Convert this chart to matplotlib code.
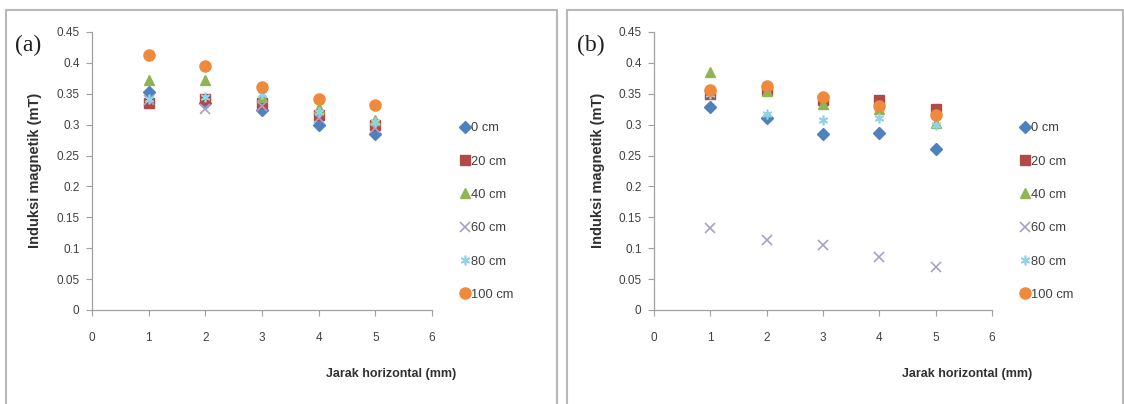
import numpy as np
import matplotlib.pyplot as plt
from matplotlib.patches import Rectangle
from matplotlib.ticker import FuncFormatter, MultipleLocator

# horizontal distance (mm)
jarak = [1, 2, 3, 4, 5]
labels = ["0 cm", "20 cm", "40 cm", "60 cm", "80 cm", "100 cm"]

# (a) magnetic induction (mT)
a_0 = [0.353, 0.335, 0.323, 0.300, 0.285]
a_20 = [0.335, 0.342, 0.335, 0.315, 0.299]
a_40 = [0.373, 0.373, 0.345, 0.327, 0.308]
a_60 = [0.340, 0.326, 0.330, 0.310, 0.295]
a_80 = [0.342, 0.345, 0.350, 0.320, 0.305]
a_100 = [0.412, 0.395, 0.361, 0.342, 0.332]

# (b) magnetic induction (mT)
b_0 = [0.328, 0.310, 0.285, 0.286, 0.260]
b_20 = [0.350, 0.356, 0.340, 0.340, 0.326]
b_40 = [0.386, 0.355, 0.334, 0.325, 0.302]
b_60 = [0.133, 0.114, 0.105, 0.085, 0.069]
b_80 = [0.350, 0.318, 0.307, 0.310, 0.300]
b_100 = [0.356, 0.362, 0.345, 0.331, 0.315]

# excel-like marker styles
styles = [
    dict(marker="D", color="#4f81bd", ms=6),
    dict(marker="s", color="#b04a47", ms=7),
    dict(marker="^", color="#8fb455", ms=7.5),
    dict(marker="x", color="#a9a0c6", ms=7, mew=1.2),
    dict(marker=(6, 2, 0), color="#8fd3e6", ms=7, mew=1.2),
    dict(marker="o", color="#ef8a3c", ms=8),
]

plt.rcParams["font.family"] = ["Liberation Sans Narrow", "Liberation Sans", "DejaVu Sans"]

fig = plt.figure(figsize=(11.24, 4.04), dpi=100)

# panel frames
for x0, w in [(6, 551), (567, 556)]:
    fig.patches.append(Rectangle((x0 / 1124, -0.02), w / 1124, (404 - 10) / 404 + 0.02,
                                 transform=fig.transFigure, fill=False,
                                 edgecolor="#b8b8b8", lw=1.5))


def draw_panel(ax, series, tag, legend_x, xlabel_x, ylabel_x, tag_x):
    for vals, lab, st in zip(series, labels, styles):
        ax.plot(jarak, vals, linestyle="none", marker=st["marker"],
                color=st["color"], ms=st["ms"], mew=st.get("mew", 1),
                label=lab)
    ax.set_xlim(0, 6)
    ax.set_ylim(0, 0.45)
    ax.xaxis.set_major_locator(MultipleLocator(1))
    ax.yaxis.set_major_locator(MultipleLocator(0.05))
    ax.yaxis.set_major_formatter(FuncFormatter(lambda v, p: "%g" % round(v, 2)))
    for s in ["top", "right"]:
        ax.spines[s].set_visible(False)
    for s in ["left", "bottom"]:
        ax.spines[s].set_color("#a0a0a0")
        ax.spines[s].set_linewidth(0.9)
    ax.tick_params(axis="both", direction="out", length=4, width=0.8,
                   color="#a0a0a0", labelsize=8.5, labelcolor="#404040")
    ax.tick_params(axis="x", pad=12)
    ax.tick_params(axis="y", pad=5)

    fig.text(xlabel_x / 1124, 1 - 374 / 404, "Jarak horizontal (mm)",
             ha="center", va="center", fontsize=9, fontweight="bold", color="#303030")
    fig.text(ylabel_x / 1124, 1 - 170 / 404, "Induksi magnetik (mT)",
             ha="center", va="center", rotation=90, fontsize=10.5,
             fontweight="bold", color="#303030")
    fig.text(tag_x / 1124, 1 - 45 / 404, tag, ha="left", va="center",
             fontsize=17, family="Liberation Serif", color="#202020")

    ax.legend(loc="upper left", bbox_to_anchor=(legend_x / 1124, 1 - 117 / 404),
              bbox_transform=fig.transFigure, frameon=False, fontsize=9.3,
              labelspacing=1.65, handlelength=0.7, handletextpad=0.15,
              borderaxespad=0, labelcolor="#404040")


ax_a = fig.add_axes([92 / 1124, 1 - 310 / 404, 340 / 1124, 278 / 404])
draw_panel(ax_a, [a_0, a_20, a_40, a_60, a_80, a_100], "(a)",
           455, 391, 35, 15)

ax_b = fig.add_axes([654 / 1124, 1 - 310 / 404, 338 / 1124, 278 / 404])
draw_panel(ax_b, [b_0, b_20, b_40, b_60, b_80, b_100], "(b)",
           1015, 967, 598, 577)

fig.savefig("out.png", dpi=100)
